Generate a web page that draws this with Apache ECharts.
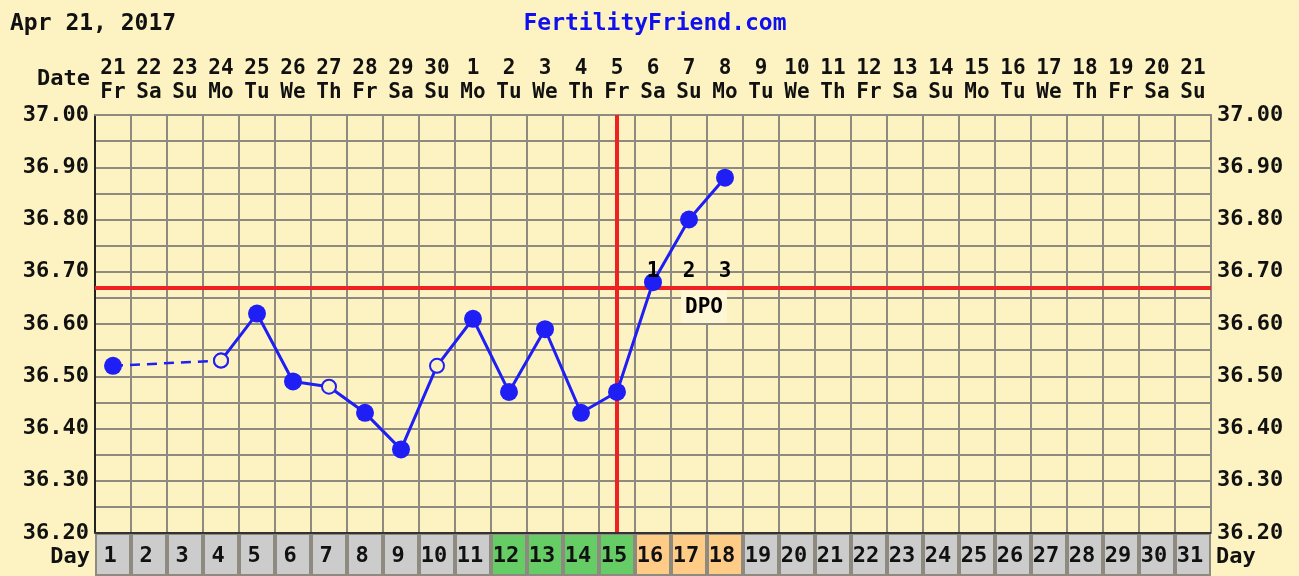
<!DOCTYPE html>
<html>
<head>
<meta charset="utf-8">
<script src="https://cdn.jsdelivr.net/npm/echarts@6/dist/echarts.min.js"></script>
<style>
html,body{margin:0;padding:0;background:#fdf3c2;}
#c{width:1299px;height:576px;}
</style>
</head>
<body>
<div id="c"></div>
<script>
// ---- data ----
const dayNums = ['1','2','3','4','5','6','7','8','9','10','11','12','13','14','15','16','17','18','19','20','21','22','23','24','25','26','27','28','29','30','31'];
const dates = ['21','22','23','24','25','26','27','28','29','30','1','2','3','4','5','6','7','8','9','10','11','12','13','14','15','16','17','18','19','20','21'];
const weekdays = ['Fr','Sa','Su','Mo','Tu','We','Th','Fr','Sa','Su','Mo','Tu','We','Th','Fr','Sa','Su','Mo','Tu','We','Th','Fr','Sa','Su','Mo','Tu','We','Th','Fr','Sa','Su'];
const temps = [36.52,null,null,36.53,36.62,36.49,36.48,36.43,36.36,36.52,36.61,36.47,36.59,36.43,36.47,36.68,36.80,36.88,null,null,null,null,null,null,null,null,null,null,null,null,null];
const openDays = ['4','7','10'];
const gapFrom = '1', gapTo = '4';
const coverline = 36.667;
const ovulationDay = '15';
const fertileDays = ['12','13','14','15'];
const dpoDays = ['16','17','18'];
const dpoLabels = ['1','2','3'];
const dpoTitle = 'DPO';
const chartDate = 'Apr 21, 2017';
const siteName = 'FertilityFriend.com';
const yMin = 36.2, yMax = 37.0, yStep = 0.05;

// ---- styles ----
const BG = '#fdf3c2';
const BLUE = '#1f1ff5';
const RED = '#ee2222';
const GRID = '#8e8a80';
const MONO = '"DejaVu Sans Mono", "Liberation Mono", monospace';

const chart = echarts.init(document.getElementById('c'), null, {renderer: 'canvas'});

const openItem = v => ({value: v, symbol: 'circle', symbolSize: 14,
  itemStyle: {color: BG, borderColor: BLUE, borderWidth: 2}});
const gi = dayNums.indexOf(gapFrom), gj = dayNums.indexOf(gapTo);
const solidData = temps.map((v, i) => {
  if (i < gj || v == null) return null;
  return openDays.includes(dayNums[i]) ? openItem(v) : {value: v};
});
const dashData = temps.map((v, i) => (i === gi || i === gj) ?
  (openDays.includes(dayNums[i]) ? openItem(v) : {value: v}) : null);

const dayColor = d => fertileDays.includes(d) ? '#66cc66' : (dpoDays.includes(d) ? '#ffcc88' : '#cccccc');
const yFmt = v => (Math.abs(Math.round(v * 10) - v * 10) < 1e-6) ? v.toFixed(2) : '';

const option = {
  backgroundColor: BG,
  animation: false,
  title: [
    {text: chartDate, left: 5, top: 8, textStyle: {fontFamily: MONO, fontSize: 23, fontWeight: 'bold', color: '#111'}},
    {text: siteName, left: 650, top: 8, textAlign: 'center', textStyle: {fontFamily: MONO, fontSize: 23, fontWeight: 'bold', color: '#1010ee'}}
  ],
  grid: [
    {left: 95, right: 88, top: 115, bottom: 43, show: false},
    {left: 95, right: 88, top: 533, bottom: 0, show: false}
  ],
  xAxis: [
    {type: 'category', gridIndex: 0, data: dayNums, boundaryGap: true,
     axisLine: {show: false}, axisTick: {show: false}, axisLabel: {show: false},
     splitLine: {show: true, interval: 0, lineStyle: {color: GRID, width: 2}}},
    {type: 'category', gridIndex: 0, position: 'top', data: dayNums, boundaryGap: true,
     axisLine: {show: true, lineStyle: {color: GRID, width: 2}}, axisTick: {show: false},
     axisLabel: {show: true, interval: 0, margin: 10, fontFamily: MONO, fontSize: 21, fontWeight: 'bold', color: '#111', lineHeight: 24,
       formatter: (v, i) => dates[i] + '\n' + weekdays[i]}},
    {type: 'category', gridIndex: 1, data: dayNums, boundaryGap: true,
     axisLine: {show: false}, axisTick: {show: false}, axisLabel: {show: false}, splitLine: {show: false}}
  ],
  yAxis: [
    {type: 'value', gridIndex: 0, min: yMin, max: yMax, interval: yStep, position: 'left',
     axisLine: {show: true, lineStyle: {color: '#222', width: 2}}, axisTick: {show: false},
     axisLabel: {show: true, margin: 6, fontFamily: MONO, fontSize: 22, fontWeight: 'bold', color: '#111', formatter: yFmt},
     splitLine: {show: true, lineStyle: {color: GRID, width: 2}}},
    {type: 'value', gridIndex: 0, min: yMin, max: yMax, interval: yStep, position: 'right',
     axisLine: {show: true, lineStyle: {color: GRID, width: 2}}, axisTick: {show: false},
     axisLabel: {show: true, margin: 6, fontFamily: MONO, fontSize: 22, fontWeight: 'bold', color: '#111', formatter: yFmt},
     splitLine: {show: false}},
    {type: 'value', gridIndex: 1, min: 0, max: 1, show: false}
  ],
  series: [
    // reference lines
    {type: 'line', xAxisIndex: 0, yAxisIndex: 0, data: [], z: 3, silent: true,
     markLine: {symbol: 'none', silent: true, label: {show: false},
       lineStyle: {color: RED, width: 4, type: 'solid', opacity: 1},
       emphasis: {disabled: true},
       data: [{yAxis: coverline}, {xAxis: ovulationDay}]}},
    // dashed gap
    {type: 'line', xAxisIndex: 0, yAxisIndex: 0, data: dashData, connectNulls: true, z: 4,
     symbol: 'circle', symbolSize: 18, showSymbol: true,
     itemStyle: {color: BLUE}, lineStyle: {color: BLUE, width: 2.5, type: [10, 7]}},
    // solid temps
    {type: 'line', xAxisIndex: 0, yAxisIndex: 0, data: solidData, connectNulls: false, z: 5,
     symbol: 'circle', symbolSize: 18, showSymbol: true,
     itemStyle: {color: BLUE}, lineStyle: {color: BLUE, width: 3}},
    // DPO numbers
    {type: 'scatter', xAxisIndex: 0, yAxisIndex: 0, z: 6, symbolSize: 0, silent: true,
     itemStyle: {color: BG, opacity: 1},
     data: dpoDays.map(d => [d, coverline]),
     label: {show: true, position: 'top', distance: 7, formatter: p => dpoLabels[p.dataIndex],
       fontFamily: MONO, fontSize: 21, fontWeight: 'bold', color: '#000', opacity: 1}},
    // DPO title
    {type: 'scatter', xAxisIndex: 0, yAxisIndex: 0, z: 6, symbolSize: 0, silent: true,
     itemStyle: {color: BG, opacity: 1},
     data: [[dpoDays[1], coverline]],
     label: {show: true, position: 'bottom', distance: 1, offset: [15, 0], formatter: dpoTitle,
       backgroundColor: '#fef7d6', padding: [7, 4, 5, 4],
       fontFamily: MONO, fontSize: 21, fontWeight: 'bold', color: '#000', opacity: 1}},
    // day row
    {type: 'bar', xAxisIndex: 2, yAxisIndex: 2, barCategoryGap: '0%', z: 2,
     data: dayNums.map(d => ({value: 1, itemStyle: {color: dayColor(d)}})),
     itemStyle: {borderColor: GRID, borderWidth: 2},
     label: {show: true, position: 'inside', offset: [-3, 2], formatter: p => dayNums[p.dataIndex],
       fontFamily: MONO, fontSize: 22, fontWeight: 'bold', color: '#111'}}
  ],
  graphic: [
    {type: 'text', right: 1299 - 90, top: 68, style: {text: 'Date', font: 'bold 22px ' + MONO, fill: '#111'}},
    {type: 'text', right: 1299 - 90, top: 546, style: {text: 'Day', font: 'bold 22px ' + MONO, fill: '#111'}},
    {type: 'text', left: 1216, top: 546, style: {text: 'Day', font: 'bold 22px ' + MONO, fill: '#111'}},
    {type: 'line', shape: {x1: 95, y1: 533, x2: 1211, y2: 533}, style: {stroke: '#333', lineWidth: 2}, z: 10}
  ]
};
chart.setOption(option);
</script>
</body>
</html>
